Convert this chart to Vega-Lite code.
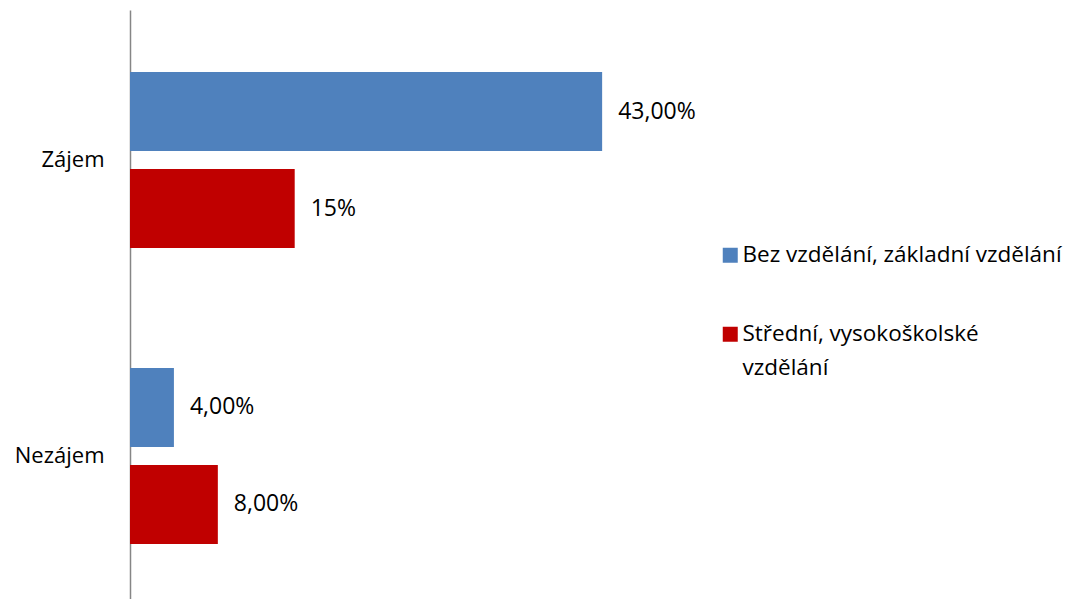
{
  "$schema": "https://vega.github.io/schema/vega-lite/v6.json",
  "autosize": {"type": "none"},
  "width": 945,
  "height": 596,
  "padding": {"left": 130, "top": 10, "right": 0, "bottom": 0},
  "background": "white",
  "config": {"view": {"stroke": null}, "font": "Open Sans", "style": {"guide-label": {"lineHeight": 34}}},
  "data": {"values": [
    {"kat": "Zájem", "skupina": "Bez vzdělání, základní vzdělání", "hodnota": 0.43, "popis": "43,00%"},
    {"kat": "Zájem", "skupina": "Střední, vysokoškolské vzdělání", "hodnota": 0.15, "popis": "15%"},
    {"kat": "Nezájem", "skupina": "Bez vzdělání, základní vzdělání", "hodnota": 0.04, "popis": "4,00%"},
    {"kat": "Nezájem", "skupina": "Střední, vysokoškolské vzdělání", "hodnota": 0.08, "popis": "8,00%"}
  ]},
  "encoding": {
    "y": {"field": "kat", "type": "nominal", "sort": ["Zájem", "Nezájem"],
      "scale": {"paddingInner": 0.405, "paddingOuter": 0.2095},
      "axis": {"title": null, "ticks": false, "domainColor": "#868686", "domainWidth": 1.5, "labelFontSize": 22, "labelColor": "#000000", "labelPadding": 26, "labelFont": "Open Sans"}},
    "yOffset": {"field": "skupina", "type": "nominal", "sort": ["Bez vzdělání, základní vzdělání", "Střední, vysokoškolské vzdělání"], "scale": {"paddingInner": 0.186, "paddingOuter": 0}},
    "x": {"field": "hodnota", "type": "quantitative", "scale": {"domain": [0, 0.5], "range": [0, 549]}, "axis": null}
  },
  "layer": [
    {
      "mark": {"type": "bar"},
      "encoding": {
        "color": {"field": "skupina", "type": "nominal",
          "scale": {"domain": ["Bez vzdělání, základní vzdělání", "Střední, vysokoškolské vzdělání"], "range": ["#4F81BD", "#C00000"]},
          "legend": {"title": null, "orient": "none", "legendX": 589, "legendY": 234, "padding": 0,
            "symbolType": "square", "symbolSize": 225, "symbolStrokeWidth": 0, "symbolOpacity": 1,
            "labelFontSize": 22.5, "labelColor": "#000000", "labelFont": "Open Sans", "labelOffset": 1, "labelLimit": 400,
            "rowPadding": 56, "labelBaseline": "middle",
            "labelExpr": "datum.label == 'Střední, vysokoškolské vzdělání' ? ['Střední, vysokoškolské', 'vzdělání'] : datum.label"}
        }
      }
    },
    {
      "mark": {"type": "text", "align": "left", "baseline": "middle", "dx": 16, "fontSize": 23, "color": "#000000", "font": "Open Sans"},
      "encoding": {"text": {"field": "popis"}}
    }
  ]
}
